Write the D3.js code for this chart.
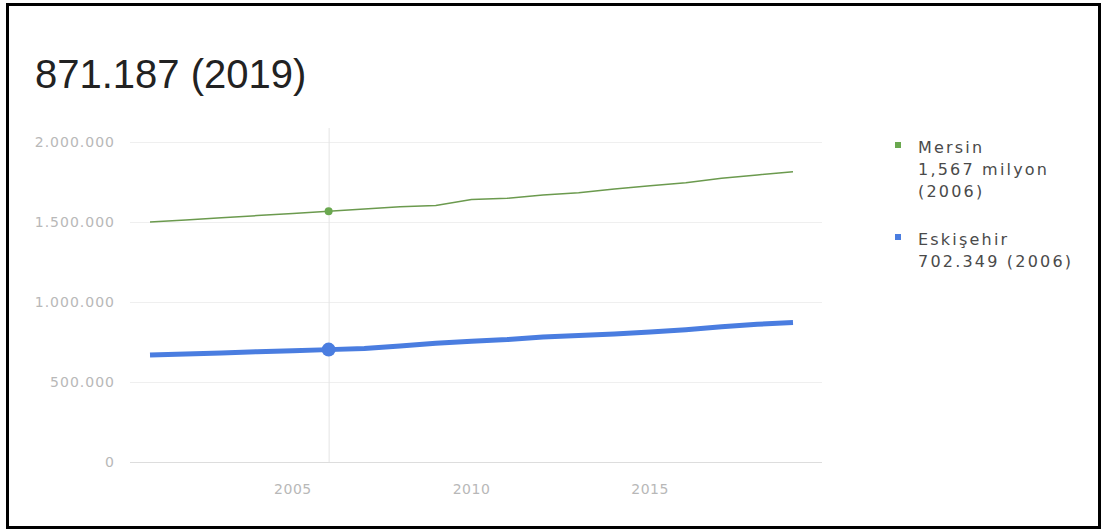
<!DOCTYPE html>
<meta charset="utf-8">
<head>
<script src="https://d3js.org/d3.v7.min.js"></script>
<style>
  body { margin: 0; background: #fff; }
  svg { font-family: Arial, "Liberation Sans", sans-serif; }
  .small { font-family: "DejaVu Sans", sans-serif; }
</style>
</head>
<body>
<div class="viz"></div>
<script>
  var years = [2001, 2002, 2003, 2004, 2005, 2006, 2007, 2008, 2009, 2010,
               2011, 2012, 2013, 2014, 2015, 2016, 2017, 2018, 2019];
  var mersin = [1500000, 1513000, 1527000, 1540000, 1553000, 1567000, 1582000, 1596000, 1603000, 1641000,
                1648000, 1668000, 1683000, 1706000, 1727000, 1745000, 1774000, 1794000, 1814000];
  var eskisehir = [668000, 675000, 682000, 689000, 696000, 702349, 709000, 725000, 742000, 755000,
                   765000, 781000, 790000, 800000, 812000, 827000, 845000, 861000, 871187];
  var yTicks = [0, 500000, 1000000, 1500000, 2000000];
  var yTickLabels = ["0", "500.000", "1.000.000", "1.500.000", "2.000.000"];
  var xTicks = [2005, 2010, 2015];
  var title = "871.187 (2019)";
  var highlightYear = 2006;
  var legend = [
    {color: "#6aa84f", lines: ["Mersin", "1,567 milyon", "(2006)"]},
    {color: "#4a7de0", lines: ["Eskişehir", "702.349 (2006)"]}
  ];

  var width = 1103, height = 530;

  var svg = d3.select("div.viz").append("svg")
      .attr("width", width)
      .attr("height", height);

  // frame
  svg.append("rect")
      .attr("x", 7.5).attr("y", 4.5)
      .attr("width", 1092).attr("height", 523)
      .style("fill", "none").style("stroke", "#000").style("stroke-width", 3);

  svg.append("text")
      .attr("x", 35).attr("y", 88)
      .style("font-size", "40px")
      .style("fill", "#222")
      .text(title);

  var x = d3.scaleLinear().domain([2001, 2019]).range([150, 793]);
  var y = d3.scaleLinear().domain([0, 2000000]).range([462, 142]);
  var plotLeft = 130, plotRight = 822;

  // horizontal grid
  svg.selectAll("line.grid").data(yTicks).enter().append("line")
      .attr("class", "grid")
      .attr("x1", plotLeft).attr("x2", plotRight)
      .attr("y1", function(d) { return y(d) + 0.5; })
      .attr("y2", function(d) { return y(d) + 0.5; })
      .style("stroke", function(d) { return d === 0 ? "#ddd" : "#efefef"; })
      .style("stroke-width", 1);

  svg.selectAll("text.ylab").data(yTicks).enter().append("text")
      .attr("class", "ylab small")
      .attr("x", 115)
      .attr("y", function(d) { return y(d) + 5; })
      .attr("text-anchor", "end")
      .style("font-size", "14px")
      .style("letter-spacing", "1px")
      .style("fill", "#b8b8b8")
      .text(function(d, i) { return yTickLabels[i]; });

  svg.selectAll("text.xlab").data(xTicks).enter().append("text")
      .attr("class", "xlab small")
      .attr("x", function(d) { return x(d); })
      .attr("y", 494)
      .attr("text-anchor", "middle")
      .style("font-size", "14px")
      .style("letter-spacing", "0.5px")
      .style("fill", "#b8b8b8")
      .text(function(d) { return d; });

  // vertical highlight line
  svg.append("line")
      .attr("x1", x(highlightYear) + 0.5).attr("x2", x(highlightYear) + 0.5)
      .attr("y1", 128).attr("y2", 462)
      .style("stroke", "#e4e4e4").style("stroke-width", 1);

  var line = d3.line()
      .x(function(d, i) { return x(years[i]); })
      .y(function(d) { return y(d); });

  svg.append("path").datum(mersin)
      .attr("d", line)
      .style("fill", "none")
      .style("stroke", "#6b9a4e")
      .style("stroke-width", 1.5);

  svg.append("path").datum(eskisehir)
      .attr("d", line)
      .style("fill", "none")
      .style("stroke", legend[1].color)
      .style("stroke-width", 5)
      .style("stroke-linejoin", "round");

  var hi = years.indexOf(highlightYear);
  svg.append("circle")
      .attr("cx", x(highlightYear)).attr("cy", y(mersin[hi]))
      .attr("r", 4)
      .style("fill", legend[0].color);
  svg.append("circle")
      .attr("cx", x(highlightYear)).attr("cy", y(eskisehir[hi]))
      .attr("r", 7)
      .style("fill", legend[1].color);

  // legend
  var ly = [153, 245];
  legend.forEach(function(item, k) {
    svg.append("rect")
        .attr("x", 895).attr("y", ly[k] - 11)
        .attr("width", 6).attr("height", 6)
        .style("fill", item.color);
    item.lines.forEach(function(t, j) {
      svg.append("text")
          .attr("class", "small")
          .attr("x", 918).attr("y", ly[k] + j * 22)
          .style("font-size", "16px")
          .style("letter-spacing", "2.2px")
          .style("fill", "#4a4a4a")
          .text(t);
    });
  });
</script>
</body>
